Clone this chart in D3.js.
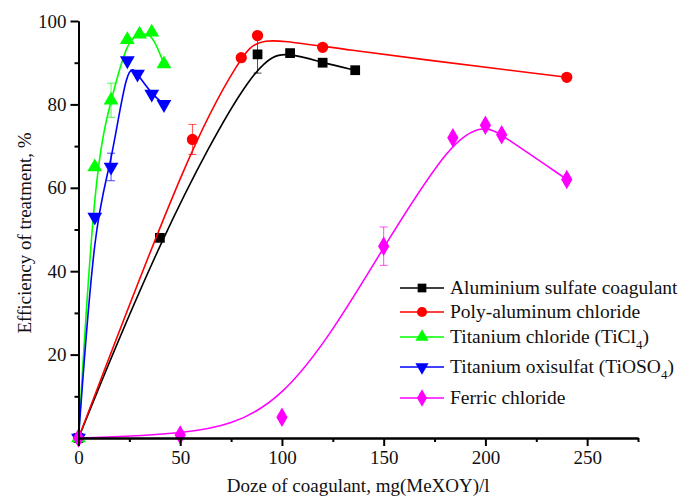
<!DOCTYPE html>
<html>
<head>
<meta charset="utf-8">
<script src="https://cdn.jsdelivr.net/npm/d3@7"></script>
<style>
    body { margin: 0; background: #fff; }
    svg { display: block; }
    text { font-family: 'Times New Roman', 'Liberation Serif', 'DejaVu Serif', serif; fill: #111; }
</style>
</head>
<body>
<svg id="chart" width="688" height="497"></svg>
<script>
// Doses (mg/l) and efficiencies (%) for each coagulant
const alumDose = [0, 40, 88, 104, 120, 136];
const alumEff = [0, 48, 92, 92.3, 90, 88.2];
const alumErr = [0, 0, 4.5, 0, 0, 0];

const pacDose = [0, 56, 80, 88, 120, 240];
const pacEff = [0, 71.6, 91.2, 96.5, 93.7, 86.5];
const pacErr = [0, 3.6, 0, 0, 0, 0];

const ticlDose = [0, 8, 16, 24, 30, 36, 42];
const ticlEff = [0, 65, 81, 95.5, 96.8, 97.3, 89.7];
const ticlErr = [0, 0, 4.1, 0, 0, 0, 0];

const tiosoDose = [0, 8, 16, 24, 29, 36, 42];
const tiosoEff = [0, 53, 65, 90.5, 87.3, 82.5, 80];
const tiosoErr = [0, 0, 3.3, 0, 0, 0, 0];

const ferricDose = [0, 50, 100, 150, 184, 200, 208, 240];
const ferricEff = [0, 0.7, 5, 46, 72, 75, 72.7, 62];
const ferricErr = [0, 0, 0, 4.6, 0, 0, 0, 0];

const xMajorTicks = [0, 50, 100, 150, 200, 250];
const xMinorTicks = [25, 75, 125, 175, 225, 275];
const yMajorTicks = [20, 40, 60, 80, 100];
const yMinorTicks = [10, 30, 50, 70, 90];

const series = [
    { name: 'Aluminium sulfate coagulant', x: alumDose, y: alumEff, err: alumErr, color: '#000000', symbol: d3.symbolSquare, size: 95, rot: 0 },
    { name: 'Poly-aluminum chloride', x: pacDose, y: pacEff, err: pacErr, color: '#ff0000', symbol: d3.symbolCircle, size: 100, rot: 0 },
    { name: 'Titanium chloride (TiCl', sub: '4', tail: ')', x: ticlDose, y: ticlEff, err: ticlErr, color: '#00ff00', symbol: d3.symbolTriangle, size: 95, rot: 0 },
    { name: 'Titanium oxisulfat (TiOSO', sub: '4', tail: ')', x: tiosoDose, y: tiosoEff, err: tiosoErr, color: '#0000ff', symbol: d3.symbolTriangle, size: 95, rot: 180 },
    { name: 'Ferric chloride', x: ferricDose, y: ferricEff, err: ferricErr, color: '#ff00ff', symbol: d3.symbolDiamond, size: 110, rot: 0 }
];

const serif = "'Times New Roman', 'Liberation Serif', 'DejaVu Serif', serif";
const margin = { top: 21, right: 50, bottom: 59, left: 78.5 };
const width = 688 - margin.left - margin.right;
const height = 497 - margin.top - margin.bottom;

const xScale = d3.scaleLinear().domain([0, 275]).range([0, width]);
const yScale = d3.scaleLinear().domain([0, 100]).range([height, 0]);

const svg = d3.select('#chart');
const g = svg.append('g').attr('transform', `translate(${margin.left},${margin.top})`);

const line = d3.line()
    .x(d => xScale(d[0]))
    .y(d => yScale(d[1]))
    .curve(d3.curveBasis);

series.forEach(s => {
    const pts = s.x.map((x, i) => [x, s.y[i], s.err[i]]);
    const sg = g.append('g');

    sg.append('path')
        .attr('d', line(pts))
        .attr('fill', 'none')
        .attr('stroke', s.color)
        .attr('stroke-width', 1.6);

    const bars = sg.selectAll('.err')
        .data(pts.filter(d => d[2] > 0))
        .join('g')
        .attr('stroke', s.color)
        .attr('stroke-opacity', 0.7)
        .attr('stroke-width', 1);
    bars.append('line')
        .attr('x1', d => xScale(d[0])).attr('x2', d => xScale(d[0]))
        .attr('y1', d => yScale(d[1] - d[2])).attr('y2', d => yScale(d[1] + d[2]));
    bars.append('line')
        .attr('x1', d => xScale(d[0]) - 4).attr('x2', d => xScale(d[0]) + 4)
        .attr('y1', d => yScale(d[1] - d[2])).attr('y2', d => yScale(d[1] - d[2]));
    bars.append('line')
        .attr('x1', d => xScale(d[0]) - 4).attr('x2', d => xScale(d[0]) + 4)
        .attr('y1', d => yScale(d[1] + d[2])).attr('y2', d => yScale(d[1] + d[2]));

    sg.selectAll('.pt')
        .data(pts)
        .join('path')
        .attr('d', d3.symbol().type(s.symbol).size(s.size))
        .attr('transform', d => `translate(${xScale(d[0])},${yScale(d[1])}) rotate(${s.rot})`)
        .attr('fill', s.color);
});

// axes: major ticks labelled, minor ticks shorter (separate groups)
g.append('g')
    .attr('transform', `translate(0,${height})`)
    .call(d3.axisBottom(xScale).tickValues(xMinorTicks).tickSize(4).tickSizeOuter(0).tickFormat(''));
g.append('g')
    .attr('transform', `translate(0,${height})`)
    .call(d3.axisBottom(xScale).tickValues(xMajorTicks).tickSize(8).tickSizeOuter(0).tickPadding(5));

g.append('g')
    .call(d3.axisLeft(yScale).tickValues(yMinorTicks).tickSize(4).tickSizeOuter(0).tickFormat(''));
g.append('g')
    .call(d3.axisLeft(yScale).tickValues(yMajorTicks).tickSize(8).tickSizeOuter(0).tickPadding(4));

g.selectAll('.domain').attr('stroke', '#000').attr('stroke-width', 2);
g.selectAll('.tick line').attr('stroke', '#000').attr('stroke-width', 2);
g.selectAll('.tick text')
    .attr('font-family', serif)
    .attr('font-size', 19)
    .attr('fill', '#111');

svg.append('text')
    .attr('x', margin.left + width / 2)
    .attr('y', 492)
    .attr('text-anchor', 'middle')
    .attr('font-family', serif)
    .attr('font-size', 19)
    .text('Doze of coagulant, mg(MeXOY)/l');

svg.append('text')
    .attr('transform', 'translate(31,233) rotate(-90)')
    .attr('text-anchor', 'middle')
    .attr('font-family', serif)
    .attr('font-size', 19)
    .text('Efficiency of treatment, %');

// legend
const legendY = [288, 312, 337, 367, 398];
const legend = svg.append('g');
series.forEach((s, i) => {
    const row = legend.append('g').attr('transform', `translate(400,${legendY[i]})`);
    row.append('line')
        .attr('x1', 0).attr('x2', 44)
        .attr('stroke', s.color).attr('stroke-width', 1.6);
    row.append('path')
        .attr('d', d3.symbol().type(s.symbol).size(s.size * 0.8))
        .attr('transform', `translate(22,0) rotate(${s.rot})`)
        .attr('fill', s.color);
    const t = row.append('text')
        .attr('x', 50)
        .attr('y', 6)
        .attr('font-family', serif)
        .attr('font-size', 19.5)
        .text(s.name);
    if (s.sub) {
        t.append('tspan').attr('dy', 6).attr('font-size', 13).text(s.sub);
        t.append('tspan').attr('dy', -6).text(s.tail);
    }
});
</script>
</body>
</html>
